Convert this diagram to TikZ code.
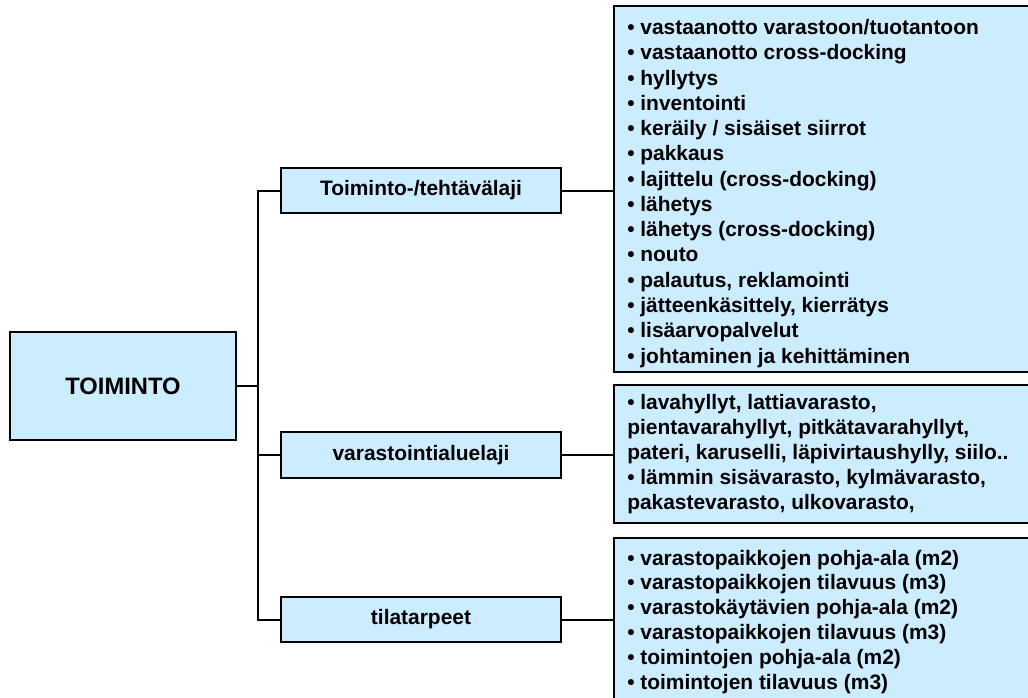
\documentclass[tikz,border=0pt]{standalone}
\usepackage{fontspec}
\setmainfont{Liberation Sans}
\definecolor{boxfill}{RGB}{204,236,255}
\begin{document}
\begin{tikzpicture}[x=0.75pt,y=-0.75pt,
  box/.style={draw=black,line width=1.4pt,fill=boxfill,inner sep=0pt,outer sep=0pt},
  rootbox/.style={box,minimum width=169.5pt,minimum height=81pt,
    font=\fontsize{17.8}{21}\selectfont\bfseries},
  midbox/.style={box,minimum width=210pt,minimum height=34pt,
    font=\fontsize{15.7}{18.8}\selectfont\bfseries},
  listbox/.style={box,anchor=north west,minimum width=322.5pt},
  listtext/.style={anchor=north west,inner sep=0pt,align=left,
    font=\fontsize{15.7}{18.8}\selectfont\bfseries},
  link/.style={line width=1.5pt,draw=black}]
\useasboundingbox (0,0) rectangle (1028,697);
\clip (0,0) rectangle (1028,697);

% root and second-level boxes
\node[rootbox] (root) at (123,386) {TOIMINTO};
\node[midbox] (m1) at (421,190.5) {Toiminto-/tehtävälaji};
\node[midbox] (m2) at (421,455) {varastointialuelaji};
\node[midbox] (m3) at (421,619.5) {tilatarpeet};

% list boxes on the right
\node[listbox,minimum height=274.5pt] (l1) at (614,6) {};
\node[listbox,minimum height=103.5pt] (l2) at (614,385) {};
\node[listbox,minimum height=136.5pt] (l3) at (614,538) {};

\node[listtext,font=\fontsize{15.7}{18.95}\selectfont\bfseries] (t1) at (627,16.6) {\strut• vastaanotto varastoon/tuotantoon\\
• vastaanotto cross-docking\\
• hyllytys\\
• inventointi\\
• keräily / sisäiset siirrot\\
• pakkaus\\
• lajittelu (cross-docking)\\
• lähetys\\
• lähetys (cross-docking)\\
• nouto\\
• palautus, reklamointi\\
• jätteenkäsittely, kierrätys\\
• lisäarvopalvelut\\
• johtaminen ja kehittäminen};

\node[listtext] (t2) at (627,391.6) {\strut• lavahyllyt, lattiavarasto,\\
pientavarahyllyt, pitkätavarahyllyt,\\
pateri, karuselli, läpivirtaushylly, siilo..\\
• lämmin sisävarasto, kylmävarasto,\\
pakastevarasto, ulkovarasto,};

\node[listtext,font=\fontsize{15.7}{18.65}\selectfont\bfseries] (t3) at (627,547.4) {\strut• varastopaikkojen pohja-ala (m2)\\
• varastopaikkojen tilavuus (m3)\\
• varastokäytävien pohja-ala (m2)\\
• varastopaikkojen tilavuus (m3)\\
• toimintojen pohja-ala (m2)\\
• toimintojen tilavuus (m3)};

% tree connectors
\coordinate (trunk) at (258,386);
\draw[link] (root.east) -- (trunk);
\draw[link] (trunk) |- (m1.west);
\draw[link] (trunk) |- (m2.west);
\draw[link] (trunk) |- (m3.west);
\draw[link] (m1.east) -- (m1.east -| l1.west);
\draw[link] (m2.east) -- (m2.east -| l2.west);
\draw[link] (m3.east) -- (m3.east -| l3.west);
\end{tikzpicture}
\end{document}
